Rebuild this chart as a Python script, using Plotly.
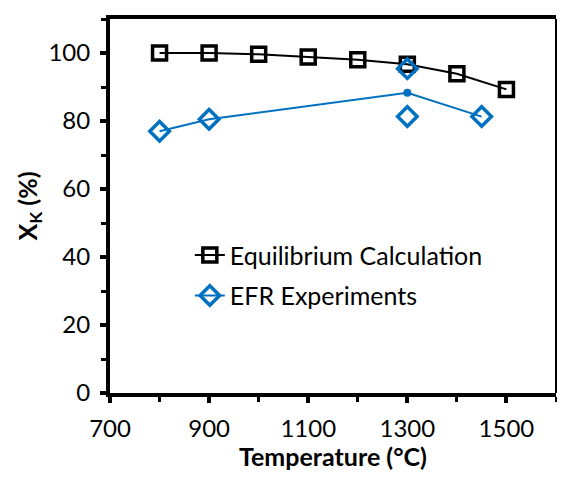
import plotly.graph_objects as go

# Data
eq_temp = [800, 900, 1000, 1100, 1200, 1300, 1400, 1500]
eq_xk = [100, 100, 99.6, 98.8, 98.0, 96.7, 93.9, 89.3]

efr_temp = [800, 900, 1300, 1450]
efr_xk = [77.0, 80.5, 88.3, 81.3]

efr_diamond_temp = [800, 900, 1300, 1300, 1450]
efr_diamond_xk = [77.0, 80.5, 95.4, 81.3, 81.3]

efr_mean_temp = [1300]
efr_mean_xk = [88.3]

x_ticks = [700, 900, 1100, 1300, 1500]
y_ticks = [0, 20, 40, 60, 80, 100]

BLUE = "#0070C0"
FONT = "Lato"

fig = go.Figure()

fig.add_trace(go.Scatter(
    x=eq_temp, y=eq_xk, mode="lines+markers", name="Equilibrium Calculation",
    legendgroup="a",
    line=dict(color="black", width=2),
    marker=dict(symbol="square-open", size=14, color="black",
                line=dict(width=3.5, color="black")),
))

# EFR line (no legend)
fig.add_trace(go.Scatter(
    x=efr_temp, y=efr_xk, mode="lines", showlegend=False,
    line=dict(color=BLUE, width=2),
))
fig.add_trace(go.Scatter(
    x=efr_mean_temp, y=efr_mean_xk, mode="markers", showlegend=False,
    marker=dict(symbol="circle", size=8, color=BLUE),
))
fig.add_trace(go.Scatter(
    x=efr_diamond_temp, y=efr_diamond_xk, mode="markers", showlegend=False,
    marker=dict(symbol="diamond-open", size=15, color=BLUE,
                line=dict(width=3.5, color=BLUE)),
))
# legend entry for EFR
fig.add_trace(go.Scatter(
    x=[None], y=[None], mode="lines+markers", name="EFR Experiments",
    legendgroup="b",
    line=dict(color=BLUE, width=2),
    marker=dict(symbol="diamond-open", size=15, color=BLUE,
                line=dict(width=3.5, color=BLUE)),
))

fig.add_shape(type="line", xref="paper", yref="paper", x0=1, x1=1, y0=0, y1=1,
              line=dict(color="black", width=2))

fig.update_layout(
    width=549, height=463,
    margin=dict(l=102, r=1, t=11, b=78),
    paper_bgcolor="white", plot_bgcolor="white",
    font=dict(family=FONT, color="black", size=24),
    showlegend=True,
    legend=dict(x=0.179, y=0.43, xanchor="left", yanchor="top",
                bgcolor="rgba(0,0,0,0)", font=dict(size=25, family=FONT),
                tracegroupgap=5),
    xaxis=dict(
        range=[700, 1600], tickvals=x_ticks, showgrid=False, zeroline=False,
        automargin=False,
        showline=True, linecolor="black", linewidth=4, mirror=True,
        ticks="outside", ticklen=6, tickwidth=4, tickcolor="black",
        tickfont=dict(size=24, family=FONT), ticklabelstandoff=5,
        minor=dict(dtick=100, ticks="outside", ticklen=5, tickwidth=3, tickcolor="black", showgrid=False),
        title=dict(text="<b>Temperature (°C)</b>", font=dict(size=25, family=FONT), standoff=8),
    ),
    yaxis=dict(
        range=[0, 110], tickvals=y_ticks, showgrid=False, zeroline=False,
        automargin=False,
        showline=True, linecolor="black", linewidth=4,
        ticks="outside", ticklen=6, tickwidth=4, tickcolor="black",
        tickfont=dict(size=24, family=FONT), ticklabelstandoff=5,
        minor=dict(dtick=10, ticks="outside", ticklen=5, tickwidth=3, tickcolor="black", showgrid=False),
        title=dict(text="<b>X<sub>K</sub> (%)</b>", font=dict(size=25, family=FONT), standoff=5),
    ),
)

fig.write_html("out.html")
